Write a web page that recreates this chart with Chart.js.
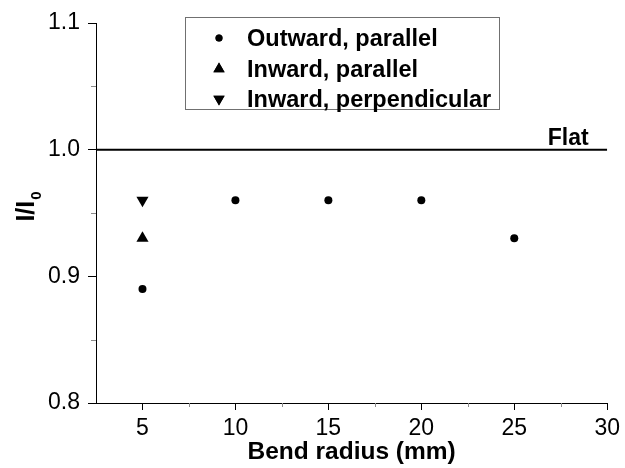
<!DOCTYPE html>
<html>
<head>
<meta charset="utf-8">
<script src="https://cdn.jsdelivr.net/npm/chart.js@4.4.1/dist/chart.umd.min.js"></script>
<style>
  body { margin: 0; background: #fff; }
  #wrap { width: 625px; height: 468px; }
</style>
</head>
<body>
<div id="wrap"><canvas id="bendChart" width="625" height="468"></canvas></div>
<script>
const radiusOut = [5, 10, 15, 20, 25];
const outwardParallel = [0.89, 0.96, 0.96, 0.96, 0.93];
const radiusInPar = [5];
const inwardParallel = [0.93];
const radiusInPerp = [5];
const inwardPerpendicular = [0.96];
const flatX = [2.5, 30];
const flatY = [1.0, 1.0];
const xTicks = [5, 10, 15, 20, 25, 30];
const yTicks = [0.8, 0.9, 1.0, 1.1];
const xMinor = [7.5, 12.5, 17.5, 22.5, 27.5];
const yMinor = [0.85, 0.95, 1.05];
const seriesNames = ["Outward, parallel", "Inward, parallel", "Inward, perpendicular"];
const flatLabel = "Flat";

const FONT = "'Liberation Sans', Arial, sans-serif";

function toPoints(xs, ys) {
  return xs.map((x, i) => ({ x: x, y: ys[i] }));
}

// minor ticks, the "Flat" label, the y title with subscript and the boxed legend
const extras = {
  id: "extras",
  afterDraw(chart) {
    const ctx = chart.ctx;
    const xs = chart.scales.x;
    const ys = chart.scales.y;
    const area = chart.chartArea;
    ctx.save();

    ctx.strokeStyle = "#8a8a8a";
    ctx.lineWidth = 1;
    ctx.beginPath();
    xMinor.forEach((v) => {
      const p = Math.round(xs.getPixelForValue(v)) + 0.5;
      ctx.moveTo(p, area.bottom);
      ctx.lineTo(p, area.bottom + 4);
    });
    yMinor.forEach((v) => {
      const p = Math.round(ys.getPixelForValue(v)) + 0.5;
      ctx.moveTo(area.left - 5, p);
      ctx.lineTo(area.left, p);
    });
    ctx.stroke();

    ctx.fillStyle = "#000";
    ctx.font = "bold 23px " + FONT;
    ctx.textAlign = "right";
    ctx.textBaseline = "alphabetic";
    ctx.fillText(flatLabel, xs.getPixelForValue(29), ys.getPixelForValue(flatY[0]) - 5);

    // y axis title I/I0
    ctx.save();
    ctx.font = "bold 25px " + FONT;
    const main = "I/I";
    const wMain = ctx.measureText(main).width;
    ctx.font = "bold 15px " + FONT;
    const wSub = ctx.measureText("0").width;
    const cy = (area.top + area.bottom) / 2 - 6;
    ctx.translate(34, cy + (wMain + wSub) / 2);
    ctx.rotate(-Math.PI / 2);
    ctx.textAlign = "left";
    ctx.font = "bold 25px " + FONT;
    ctx.fillText(main, 0, 0);
    ctx.font = "bold 15px " + FONT;
    ctx.fillText("0", wMain + 1, 7);
    ctx.restore();

    // legend
    ctx.strokeStyle = "#707070";
    ctx.lineWidth = 1;
    ctx.strokeRect(185.5, 17.5, 314, 92);
    const rows = [38, 69, 99];
    const styles = [
      { pointStyle: "circle", radius: 3.5, rotation: 0 },
      { pointStyle: "triangle", radius: 6.5, rotation: 0 },
      { pointStyle: "triangle", radius: 6.5, rotation: 180 }
    ];
    ctx.font = "bold 23.5px " + FONT;
    ctx.textAlign = "left";
    ctx.textBaseline = "alphabetic";
    rows.forEach((y, i) => {
      ctx.fillStyle = "#000";
      ctx.strokeStyle = "#000";
      Chart.helpers.drawPoint(ctx, styles[i], 219, y);
      ctx.fill();
      ctx.fillText(seriesNames[i], 247, y + 8);
    });

    ctx.restore();
  }
};

new Chart(document.getElementById("bendChart"), {
  type: "scatter",
  data: {
    datasets: [
      {
        label: seriesNames[0],
        data: toPoints(radiusOut, outwardParallel),
        pointStyle: "circle",
        pointRadius: 4,
        pointBorderWidth: 0,
        backgroundColor: "#000",
        borderColor: "#000"
      },
      {
        label: seriesNames[1],
        data: toPoints(radiusInPar, inwardParallel),
        pointStyle: "triangle",
        pointRadius: 7,
        pointBorderWidth: 0,
        backgroundColor: "#000",
        borderColor: "#000"
      },
      {
        label: seriesNames[2],
        data: toPoints(radiusInPerp, inwardPerpendicular),
        pointStyle: "triangle",
        pointRotation: 180,
        pointRadius: 7,
        pointBorderWidth: 0,
        backgroundColor: "#000",
        borderColor: "#000"
      },
      {
        label: flatLabel,
        type: "line",
        data: toPoints(flatX, flatY),
        borderColor: "#000",
        borderWidth: 2,
        pointRadius: 0,
        fill: false
      }
    ]
  },
  options: {
    responsive: false,
    animation: false,
    layout: { padding: { top: 23, right: 14, left: 0, bottom: 0 } },
    plugins: {
      legend: { display: false },
      tooltip: { enabled: false }
    },
    scales: {
      x: {
        type: "linear",
        min: 2.5,
        max: 30,
        afterBuildTicks: (scale) => { scale.ticks = xTicks.map((v) => ({ value: v })); },
        afterFit: (scale) => { scale.height = 65; },
        grid: { drawOnChartArea: false, drawTicks: true, tickLength: 7, color: "#000" },
        border: { display: true, color: "#000", width: 1 },
        ticks: {
          color: "#000",
          padding: 5,
          maxRotation: 0,
          font: { family: FONT, size: 23 },
          callback: (v) => String(v)
        },
        title: {
          display: true,
          text: "Bend radius (mm)",
          color: "#000",
          font: { family: FONT, size: 24.5, weight: "bold" },
          padding: { top: 0, bottom: 1 }
        }
      },
      y: {
        type: "linear",
        min: 0.8,
        max: 1.1,
        afterBuildTicks: (scale) => { scale.ticks = yTicks.map((v) => ({ value: v })); },
        afterFit: (scale) => { scale.width = 96; },
        grid: { drawOnChartArea: false, drawTicks: true, tickLength: 8, color: "#000" },
        border: { display: true, color: "#000", width: 1 },
        ticks: {
          color: "#000",
          padding: 8,
          font: { family: FONT, size: 23 },
          callback: (v) => Number(v).toFixed(1)
        }
      }
    }
  },
  plugins: [extras]
});
</script>
</body>
</html>
